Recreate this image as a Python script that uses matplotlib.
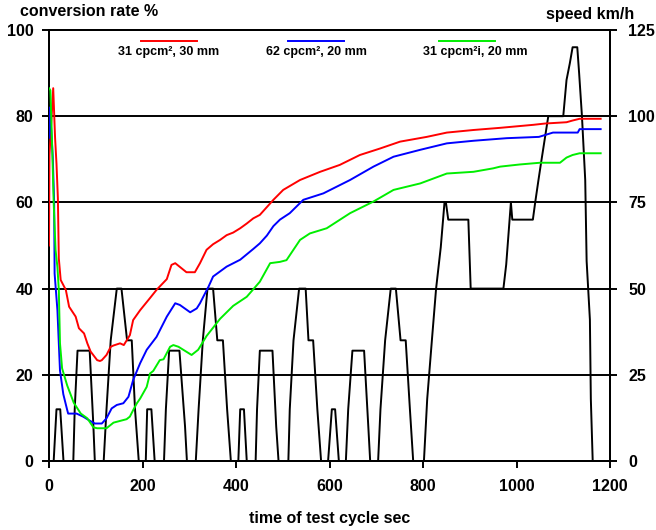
import matplotlib
matplotlib.use("Agg")
import matplotlib.pyplot as plt
from matplotlib.lines import Line2D

plt.rcParams['font.family'] = ['Liberation Sans', 'DejaVu Sans']
plt.rcParams['font.weight'] = 'bold'

# ---- data ----
series_labels = ["31 cpcm², 30 mm", "62 cpcm², 20 mm", "31 cpcm²i, 20 mm"]
series_colors = ["#ff0000", "#0000ff", "#00ee00"]

red_t = [0, 1, 9, 13, 16, 19, 21, 25, 36, 43, 57, 64, 75, 82, 89, 103, 109, 113, 123, 132,
         138, 152, 160, 173, 180, 195, 216, 230, 252, 262, 270, 294, 312, 323, 337, 351, 366,
         380, 394, 409, 423, 437, 451, 480, 501, 537, 580, 622, 665, 708, 751, 808, 851, 908,
         965, 1036, 1061, 1107, 1120, 1135, 1180]
red_v = [50, 71, 86.5, 75, 69, 61, 47, 42, 39.7, 35.8, 33.5, 30.8, 29.6, 27.3, 25.4, 23.4, 23.2,
         23.4, 24.6, 26.5, 26.8, 27.3, 26.9, 29.2, 32.7, 35, 37.8, 39.7, 42.2, 45.5, 45.9, 43.8,
         43.8, 45.9, 49, 50.3, 51.3, 52.4, 53, 54, 55.1, 56.3, 57.1, 60.6, 62.9, 65.2, 67.1, 68.7,
         71, 72.5, 74.1, 75.2, 76.2, 76.8, 77.3, 78, 78.3, 78.6, 79, 79.4, 79.4]

blue_t = [0, 1, 2, 8, 11, 12, 18, 21, 23.5, 30.6, 39, 41, 59, 73, 88, 98, 113, 123, 134, 145,
          159, 170, 180, 195, 209, 230, 252, 270, 280, 302, 316, 323, 330, 341, 351, 380, 409,
          437, 451, 466, 480, 494, 515, 544, 587, 644, 694, 737, 794, 851, 908, 979, 1048, 1078,
          1131, 1135, 1180]
blue_v = [75, 82, 82, 70.6, 60, 43.5, 35, 27.3, 21, 15.5, 11.8, 11, 11, 10.3, 9.3, 8.7, 8.7,
          9.9, 12.2, 13, 13.4, 14.9, 18.8, 22.7, 25.8, 28.8, 33.5, 36.6, 36.2, 34.5, 35.4, 36.6,
          38.1, 40.4, 42.8, 45.1, 46.7, 49.2, 50.5, 52.3, 54.5, 56, 57.5, 60.6, 62.1, 65.2, 68.3,
          70.6, 72.2, 73.7, 74.3, 74.9, 75.2, 76.2, 76.2, 77, 77]

green_t = [0, 3, 7, 10, 14, 18, 21, 23.5, 28, 39, 53, 68, 82, 95, 103, 123, 138, 166, 173, 180,
           188, 195, 209, 216, 223, 237, 245, 259, 266, 277, 305, 319, 323, 337, 366, 394, 423,
           451, 473, 494, 508, 537, 558, 594, 644, 694, 737, 794, 851, 908, 950, 965, 1007, 1050,
           1093, 1100, 1107, 1120, 1135, 1180]
green_v = [86.5, 86, 72, 60, 49, 45, 39.7, 27.3, 21.5, 17.5, 13.5, 11, 9.9, 7.8, 7.6, 7.6, 8.9,
           9.7, 10.3, 11.8, 13.4, 14.5, 17.2, 20.3, 20.9, 23.4, 23.6, 26.5, 26.9, 26.5, 24.6, 25.8,
           26.5, 29, 33, 36, 38.1, 41.6, 45.9, 46.2, 46.6, 51.3, 52.8, 54, 57.5, 60.2, 62.9, 64.4,
           66.7, 67.1, 67.9, 68.3, 68.8, 69.2, 69.2, 69.8, 70.4, 71, 71.4, 71.4]

speed_t = [0, 10, 16, 24, 31, 52, 55, 61, 87, 95, 98, 117, 123, 132, 145, 155, 167, 177, 184, 192,
           207, 210, 219, 226, 246, 250, 257, 279, 291, 295, 314, 320, 329, 339, 351, 360, 372, 381, 389,
           405, 409, 417, 423, 442, 445, 451, 478, 486, 491, 512, 515, 523, 535, 549, 555, 565, 574, 582,
           597, 605, 612, 620, 635, 640, 649, 674, 683, 687, 704, 709, 719, 731, 742, 752, 763, 772, 779,
           802, 809, 819, 828, 838, 846, 849, 854, 897, 902, 972, 978, 983, 988, 991, 1035, 1040,
           1047, 1052, 1068, 1100, 1107, 1114, 1120, 1130, 1134, 1140, 1147, 1150, 1157, 1159, 1163]
speed_v = [0, 0, 15, 15, 0, 0, 15, 32, 32, 10, 0, 0, 15, 35, 50, 50, 35, 35, 15, 0,
           0, 15, 15, 0, 0, 15, 32, 32, 10, 0, 0, 15, 35, 50, 50, 35, 35, 15, 0,
           0, 15, 15, 0, 0, 15, 32, 32, 10, 0, 0, 15, 35, 50, 50, 35, 35, 15, 0,
           0, 15, 15, 0, 0, 15, 32, 32, 10, 0, 0, 15, 35, 50, 50, 35, 35, 15, 0,
           0, 18, 35, 50, 62, 75, 75, 70, 70, 50, 50, 57, 66, 75, 70, 70, 75,
           81.5, 86, 100, 100, 110.5, 115.3, 120, 120, 112.4, 100, 81.5, 58, 41, 18, 0]

conv_ticks = [0, 20, 40, 60, 80, 100]
speed_ticks = [0, 25, 50, 75, 100, 125]
time_ticks = [0, 200, 400, 600, 800, 1000, 1200]

# ---- figure ----
W, H = 656, 530
fig = plt.figure(figsize=(W / 100, H / 100), dpi=100)
ax = fig.add_axes([49 / W, 69 / H, 561 / W, 431 / H])
ax2 = ax.twinx()
ax.set_zorder(ax2.get_zorder() + 1)
ax.patch.set_visible(False)

lw = 1.4
ax2.plot(speed_t, speed_v, color='black', lw=lw, solid_joinstyle='round')
for t, v, c in [(red_t, red_v, series_colors[0]), (blue_t, blue_v, series_colors[1]),
                (green_t, green_v, series_colors[2])]:
    ax.plot(t, v, color=c, lw=lw, zorder=3)

ax.set_xlim(0, 1200)
ax.set_ylim(0, 100)
ax2.set_ylim(0, 125)
ax.set_xticks(time_ticks)
ax.set_yticks(conv_ticks)
ax2.set_yticks(speed_ticks)

ax.yaxis.grid(True, color='black', lw=lw)
ax.set_axisbelow(True)

fs = 11.5
for a in (ax, ax2):
    for s in a.spines.values():
        s.set_color('black')
        s.set_linewidth(lw)
ax.tick_params(axis='y', direction='out', length=5, width=lw, pad=6, labelsize=fs)
ax.tick_params(axis='x', direction='out', length=5, width=lw, pad=8, labelsize=fs)
ax2.tick_params(axis='y', direction='out', length=5, width=lw, pad=8, labelsize=fs)
for lab in ax.get_xticklabels() + ax.get_yticklabels() + ax2.get_yticklabels():
    lab.set_fontweight('bold')

fig.text(20 / W, 1 - 12 / H, "conversion rate %", ha='left', va='center', fontsize=fs, weight='bold')
fig.text(634 / W, 1 - 14 / H, "speed km/h", ha='right', va='center', fontsize=fs, weight='bold')
fig.text(330 / W, 1 - 518 / H, "time of test cycle sec", ha='center', va='center', fontsize=fs, weight='bold')

# legend (line above label)
leg_x = [169, 316, 467]
leg_txt_x = [169, 316, 475]
for i in range(3):
    xc = (leg_x[i] - 49) / 561
    half = 28 / 561
    ax.add_line(Line2D([xc - half, xc + half], [(461 - 41) / 431] * 2, transform=ax.transAxes,
                       color=series_colors[i], lw=lw, zorder=5))
    ax.text((leg_txt_x[i] - 49) / 561, (461 - 52) / 431, series_labels[i], transform=ax.transAxes,
            ha='center', va='center', fontsize=9, weight='bold')

fig.savefig("out.png", dpi=100)
